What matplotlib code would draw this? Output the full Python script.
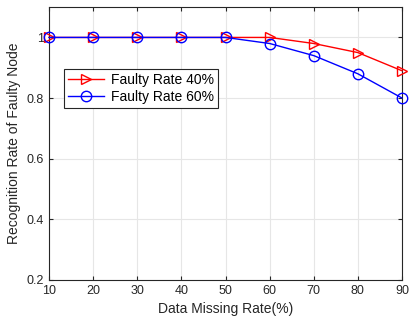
import numpy as np
import matplotlib.pyplot as plt

plt.rcParams['font.family'] = ['Liberation Sans', 'DejaVu Sans']

missing_rate = [10, 20, 30, 40, 50, 60, 70, 80, 90]
rate_40 = [1, 1, 1, 1, 1, 1, 0.98, 0.95, 0.89]
rate_60 = [1, 1, 1, 1, 1, 0.98, 0.94, 0.88, 0.80]
y_ticks = [0.2, 0.4, 0.6, 0.8, 1]
y_labels = ['0.2', '0.4', '0.6', '0.8', '1']

fig = plt.figure(figsize=(4.09, 3.24), dpi=100)
ax = fig.add_axes([0.12, 0.136, 0.863, 0.842])

ax.plot(missing_rate, rate_40, color='red', marker='>', markersize=7.5,
        markerfacecolor='none', markeredgecolor='red', linewidth=1,
        label='Faulty Rate 40%', clip_on=False, zorder=3)
ax.plot(missing_rate, rate_60, color='blue', marker='o', markersize=7.5,
        markerfacecolor='none', markeredgecolor='blue', linewidth=1,
        label='Faulty Rate 60%', clip_on=False, zorder=3)

ax.set_xlim(10, 90)
ax.set_ylim(0.2, 1.1)
ax.set_xticks(missing_rate)
ax.set_yticks(y_ticks)
ax.set_yticklabels(y_labels)
ax.tick_params(direction='in', top=True, right=True, labelsize=9, length=3,
               colors='#262626')
ax.grid(True, color='#e6e6e6', linewidth=0.8)
for s in ax.spines.values():
    s.set_color('#262626')
    s.set_linewidth(0.8)

ax.set_xlabel('Data Missing Rate(%)', fontsize=10, color='#262626')
ax.set_ylabel('Recognition Rate of Faulty Node', fontsize=10, color='#262626')

leg = ax.legend(loc='upper left', bbox_to_anchor=(0.042, 0.773), borderaxespad=0,
                fontsize=10, fancybox=False, edgecolor='#262626',
                handlelength=2.6, handletextpad=0.5, borderpad=0.3,
                labelspacing=0.2, framealpha=1)
leg.get_frame().set_linewidth(0.8)

fig.savefig('out.png', dpi=100)
